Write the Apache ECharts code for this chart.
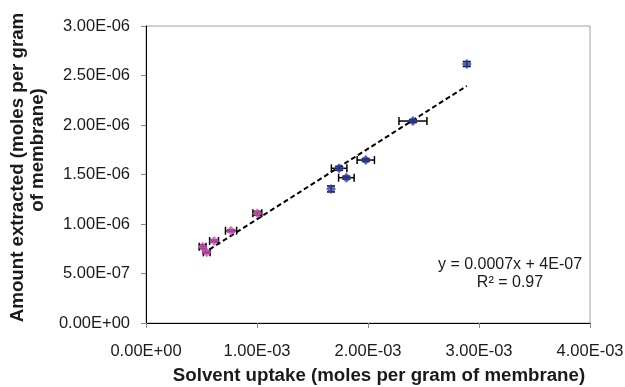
<!DOCTYPE html>
<html><head><meta charset="utf-8">
<script src="https://cdn.jsdelivr.net/npm/echarts@6/dist/echarts.min.js"></script>
<style>html,body{margin:0;padding:0;background:#fff}#c{width:625px;height:387px}</style>
</head><body><div id="c"></div>
<script>
// Blue series
const blueX = [2.89e-3, 2.405e-3, 1.98e-3, 1.74e-3, 1.805e-3, 1.667e-3];
const blueY = [2.616e-6, 2.04e-6, 1.646e-6, 1.5625e-6, 1.468e-6, 1.354e-6];
const blueXErr = [0, 1.26e-4, 7.8e-5, 7e-5, 7e-5, 0];
const blueYErr = [2.5e-8, 1.5e-8, 1.5e-8, 2e-8, 1.5e-8, 3e-8];
// Pink series
const pinkX = [1.003e-3, 0.766e-3, 0.613e-3, 0.51e-3, 0.547e-3];
const pinkY = [1.108e-6, 0.932e-6, 0.828e-6, 0.77e-6, 0.714e-6];
const pinkXErr = [4e-5, 5e-5, 4e-5, 3e-5, 3e-5];
const pinkYErr = [2e-8, 1e-8, 1e-8, 2e-8, 1e-8];
// Axis ticks
const xTicks = [0, 1e-3, 2e-3, 3e-3, 4e-3];
const yTicks = [0, 5e-7, 1e-6, 1.5e-6, 2e-6, 2.5e-6, 3e-6];
const eqText = ['y = 0.0007x + 4E-07', 'R\u00b2 = 0.97'];

function sci(v){
  if (v === 0) return '0.00E+00';
  let e = Math.floor(Math.log10(Math.abs(v)) + 1e-9);
  let m = v / Math.pow(10, e);
  const s = e < 0 ? '-' : '+';
  const ea = Math.abs(e);
  return m.toFixed(2) + 'E' + s + (ea < 10 ? '0' + ea : ea);
}

// linear regression over all points
const allX = blueX.concat(pinkX), allY = blueY.concat(pinkY);
const n = allX.length;
const mx = allX.reduce((a,b)=>a+b,0)/n, my = allY.reduce((a,b)=>a+b,0)/n;
let sxx=0, sxy=0;
for (let i=0;i<n;i++){ sxx+=(allX[i]-mx)**2; sxy+=(allX[i]-mx)*(allY[i]-my); }
const slope = sxy/sxx, icpt = my - slope*mx;
const xmin = Math.min(...allX), xmax = Math.max(...allX);
const trend = [[xmin, slope*xmin+icpt],[xmax, slope*xmax+icpt]];

function errData(xs, ys, xe, ye){ return xs.map((x,i)=>[x, ys[i], xe[i], ye[i]]); }
function errRender(params, api){
  const x = api.value(0), y = api.value(1), xe = api.value(2), ye = api.value(3);
  const ch = [];
  const st = {stroke:'#000', lineWidth:1.5};
  if (xe > 0){
    const a = api.coord([x-xe, y]), b = api.coord([x+xe, y]);
    ch.push({type:'line', shape:{x1:a[0],y1:a[1],x2:b[0],y2:b[1]}, style:st});
    ch.push({type:'line', shape:{x1:a[0],y1:a[1]-4,x2:a[0],y2:a[1]+4}, style:st});
    ch.push({type:'line', shape:{x1:b[0],y1:b[1]-4,x2:b[0],y2:b[1]+4}, style:st});
  }
  if (ye > 0){
    const a = api.coord([x, y-ye]), b = api.coord([x, y+ye]);
    ch.push({type:'line', shape:{x1:a[0],y1:a[1],x2:b[0],y2:b[1]}, style:st});
    ch.push({type:'line', shape:{x1:a[0]-4,y1:a[1],x2:a[0]+4,y2:a[1]}, style:st});
    ch.push({type:'line', shape:{x1:b[0]-4,y1:b[1],x2:b[0]+4,y2:b[1]}, style:st});
  }
  return {type:'group', children:ch};
}

const font = '"Liberation Sans", Arial, sans-serif';
const chart = echarts.init(document.getElementById('c'), null, {renderer:'canvas'});
chart.setOption({
  animation:false,
  backgroundColor:'#fff',
  grid:{left:146, right:35, top:26, bottom:64, show:true, borderColor:'#a0a0a0', borderWidth:1,
    containLabel:false, outerBoundsMode:'none'},
  xAxis:{type:'value', min:xTicks[0], max:xTicks[xTicks.length-1], interval:1e-3,
    name:'Solvent uptake (moles per gram of membrane)', nameLocation:'middle', nameGap:43,
    nameTextStyle:{fontFamily:font, fontWeight:'bold', fontSize:18.7, color:'#1a1a1a', padding:[0,0,0,22]},
    axisLine:{lineStyle:{color:'#000', width:1}}, axisTick:{show:true, length:5, lineStyle:{color:'#888'}},
    splitLine:{show:false},
    axisLabel:{fontFamily:font, fontSize:16.5, color:'#1a1a1a', margin:20, formatter:sci}},
  yAxis:{type:'value', min:yTicks[0], max:yTicks[yTicks.length-1], interval:5e-7,
    name:'{a|Amount extracted (moles per gram}\n{b|of membrane)}', nameLocation:'middle', nameGap:94,
    nameTextStyle:{fontFamily:font, fontWeight:'bold', fontSize:18.7, color:'#1a1a1a', lineHeight:20,
      rich:{a:{fontFamily:font, fontWeight:'bold', fontSize:18.7, color:'#1a1a1a', lineHeight:20, padding:[0,0,0,14]},
            b:{fontFamily:font, fontWeight:'bold', fontSize:18.7, color:'#1a1a1a', lineHeight:20, padding:[0,0,0,49]}}},
    axisLine:{show:true, lineStyle:{color:'#000', width:1}}, axisTick:{show:true, length:5, lineStyle:{color:'#888'}},
    splitLine:{show:false},
    axisLabel:{fontFamily:font, fontSize:16.5, color:'#1a1a1a', margin:16, formatter:sci}},
  graphic:[{type:'text', x:510, y:256, style:{text:eqText.join('\n'), font:'16px '+font, fill:'#1a1a1a', textAlign:'center', textVerticalAlign:'top', lineHeight:18}}],
  series:[
    {type:'line', data:trend, symbol:'none', lineStyle:{color:'#000', width:2, type:[5,3]}, z:2},
    {type:'custom', renderItem:errRender, data:errData(blueX, blueY, blueXErr, blueYErr), z:3},
    {type:'custom', renderItem:errRender, data:errData(pinkX, pinkY, pinkXErr, pinkYErr), z:3},
    {type:'scatter', data:blueX.map((x,i)=>[x, blueY[i]]), symbol:'diamond', symbolSize:10, itemStyle:{color:'#2E3FA6'}, z:4},
    {type:'scatter', data:pinkX.map((x,i)=>[x, pinkY[i]]), symbol:'diamond', symbolSize:10, itemStyle:{color:'#D055B8'}, z:4}
  ]
});
</script></body></html>
